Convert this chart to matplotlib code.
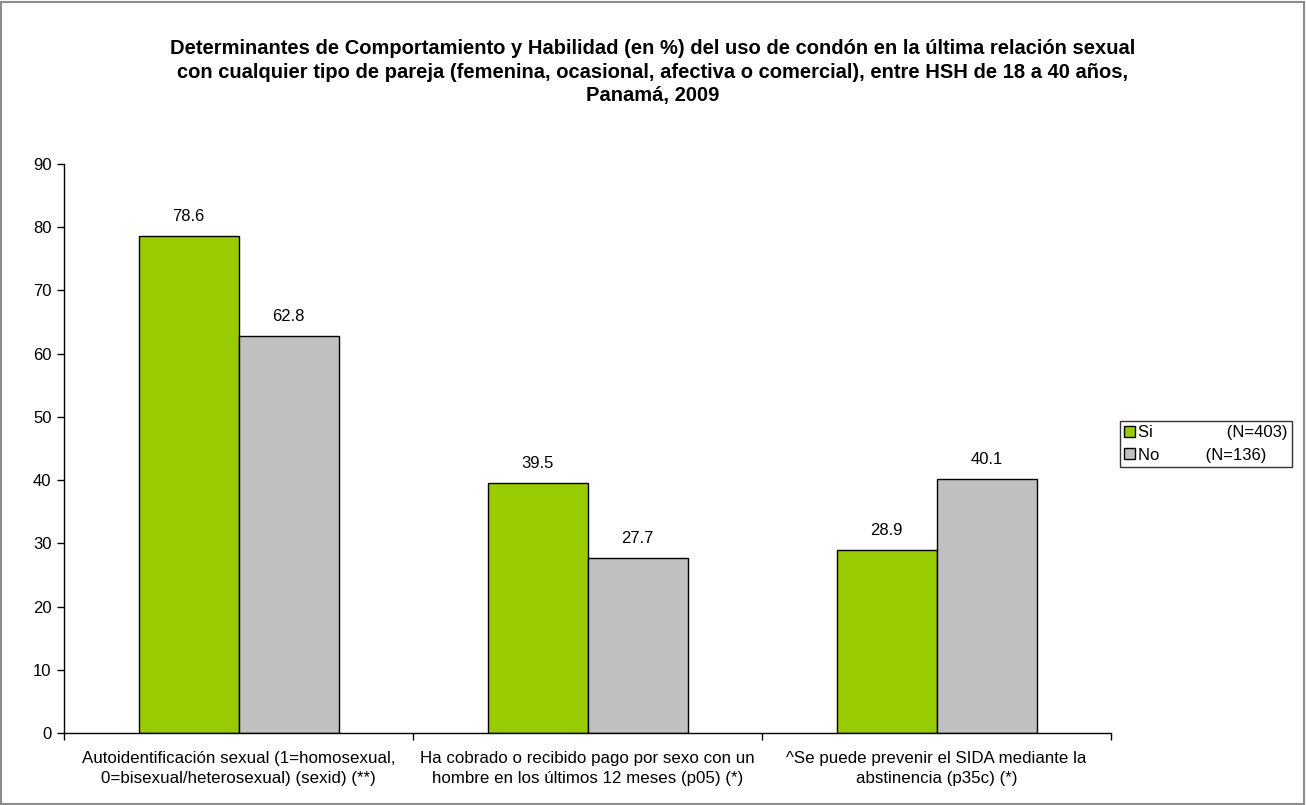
import matplotlib
matplotlib.use("Agg")
import matplotlib.pyplot as plt
import numpy as np

plt.rcParams['font.family'] = ['Liberation Sans', 'DejaVu Sans']

categories = ["Autoidentificación sexual (1=homosexual,\n0=bisexual/heterosexual) (sexid) (**)",
              "Ha cobrado o recibido pago por sexo con un\nhombre en los últimos 12 meses (p05) (*)",
              "^Se puede prevenir el SIDA mediante la\nabstinencia (p35c) (*)"]
si_values = [78.6, 39.5, 28.9]
no_values = [62.8, 27.7, 40.1]
series_labels = ["Si                (N=403)", "No          (N=136)"]
yticks = [0, 10, 20, 30, 40, 50, 60, 70, 80, 90]
title = ("Determinantes de Comportamiento y Habilidad (en %) del uso de condón en la última relación sexual\n"
         "con cualquier tipo de pareja (femenina, ocasional, afectiva o comercial), entre HSH de 18 a 40 años,\n"
         "Panamá, 2009")

W, H = 1306, 805
fig = plt.figure(figsize=(W/100, H/100), dpi=100)
fig.patches.append(plt.Rectangle((1/W, 1/H), 1-3/W, 1-3/H, transform=fig.transFigure,
                                 fill=False, edgecolor='#8c8c8c', linewidth=1.5))

x0, x1, y0, y1 = 64, 1111, 733, 164
ax = fig.add_axes([x0/W, 1-y0/H, (x1-x0)/W, (y0-y1)/H])

x = np.arange(len(categories))
bw = 100/349
b1 = ax.bar(x - bw/2, si_values, bw, color='#99cc00', edgecolor='black', linewidth=1, label=series_labels[0])
b2 = ax.bar(x + bw/2, no_values, bw, color='#c0c0c0', edgecolor='black', linewidth=1, label=series_labels[1])
for bars, vals in ((b1, si_values), (b2, no_values)):
    for r, v in zip(bars, vals):
        ax.text(r.get_x() + r.get_width()/2, v + 1.9, f"{v:.1f}", ha='center', va='bottom', fontsize=12)

ax.set_xlim(-0.5, len(categories) - 0.5)
ax.set_ylim(0, 90)
ax.set_yticks(yticks)
ax.tick_params(axis='y', labelsize=12, length=5, width=1, direction='out', pad=4)
ax.set_xticks(np.arange(len(categories)+1) - 0.5)
ax.set_xticklabels([])
ax.set_xticks(x, minor=True)
ax.set_xticklabels(categories, minor=True, fontsize=12.2, linespacing=1.45)
ax.tick_params(axis='x', which='major', length=5, width=1, direction='out')
ax.tick_params(axis='x', which='minor', length=0, pad=13)
for s in ['top', 'right']:
    ax.spines[s].set_visible(False)
for s in ['left', 'bottom']:
    ax.spines[s].set_color('black')
    ax.spines[s].set_linewidth(1)

fig.text(0.5, 1 - 72/H, title, ha='center', va='center', fontsize=14.5, fontweight='bold', linespacing=1.27)

leg = ax.legend(loc='center left', bbox_to_anchor=(1120/W, 1 - 444/H), bbox_transform=fig.transFigure,
                frameon=True, fancybox=False, edgecolor='black', fontsize=12,
                handlelength=0.65, handleheight=0.65, handletextpad=0.2, borderpad=0.25, labelspacing=0.45,
                borderaxespad=0)
leg.get_frame().set_linewidth(1)

fig.savefig("out.png", dpi=100)
